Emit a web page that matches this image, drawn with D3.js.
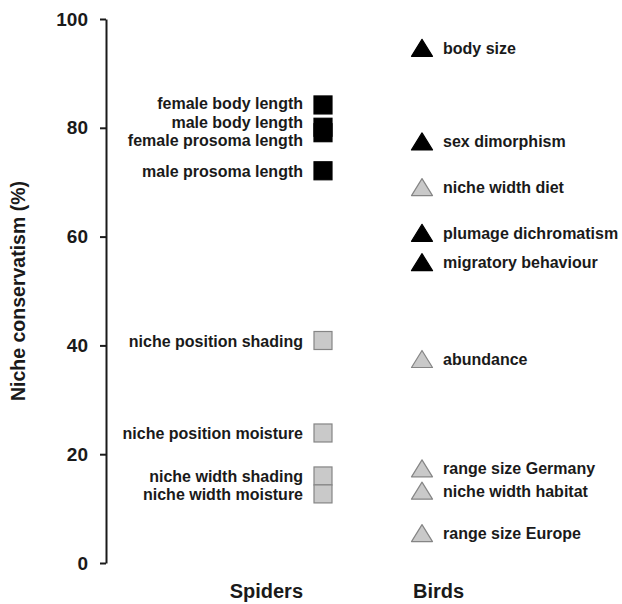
<!DOCTYPE html>
<html>
<head>
<meta charset="utf-8">
<script src="https://cdn.jsdelivr.net/npm/d3@7"></script>
<style>
body { margin: 0; background: #fff; }
text { font-family: "Liberation Sans", Arial, Helvetica, sans-serif; font-weight: bold; fill: #1a1a1a; }
</style>
</head>
<body>
<script>
var groups = ["Spiders", "Birds"];

var spiderTraits = ["female body length", "male body length", "female prosoma length", "male prosoma length",
	"niche position shading", "niche position moisture", "niche width shading", "niche width moisture"];
var spiderValues = [84.2, 80.1, 79.1, 72.1, 40.9, 23.9, 16.0, 12.7];
var spiderSignificant = [true, true, true, true, false, false, false, false];

var birdTraits = ["body size", "sex dimorphism", "niche width diet", "plumage dichromatism",
	"migratory behaviour", "abundance", "range size Germany", "niche width habitat", "range size Europe"];
var birdValues = [94.7, 77.5, 69.1, 60.7, 55.3, 37.5, 17.4, 13.3, 5.5];
var birdSignificant = [true, true, false, true, true, false, false, false, false];

var yTicks = [0, 20, 40, 60, 80, 100];

var width = 622, height = 604;

var svg = d3.select("body").append("svg")
	.attr("width", width)
	.attr("height", height);

var y = d3.scaleLinear()
	.domain([0, 100])
	.range([563, 19]);
var x = d3.scalePoint()
	.domain(groups)
	.range([323, 422]);

var axis = svg.append("g")
	.attr("transform", "translate(106,0)")
	.call(d3.axisLeft(y).tickValues(yTicks).tickSize(6).tickSizeOuter(0).tickPadding(12));
axis.select(".domain").attr("stroke", "#1a1a1a").attr("stroke-width", 2);
axis.selectAll(".tick line").attr("stroke", "#1a1a1a").attr("stroke-width", 2);
axis.selectAll(".tick text")
	.attr("font-size", 19)
	.attr("font-family", null)
	.attr("fill", null);

svg.append("text")
	.attr("transform", "translate(25," + y(50) + ") rotate(-90)")
	.attr("text-anchor", "middle")
	.attr("font-size", 19.5)
	.text("Niche conservatism (%)");

// push labels apart so they don't overlap
function spread(ys, gap) {
	var out = ys.slice();
	for (var k = 0; k < 20; k++) {
		for (var i = 1; i < out.length; i++) {
			var d = out[i] - out[i - 1];
			if (d < gap) {
				out[i - 1] -= (gap - d) / 2;
				out[i] += (gap - d) / 2;
			}
		}
	}
	return out;
}

var spiders = spiderTraits.map(function(t, i) {
	return {trait: t, value: spiderValues[i], sig: spiderSignificant[i]};
});
var birds = birdTraits.map(function(t, i) {
	return {trait: t, value: birdValues[i], sig: birdSignificant[i]};
});

var sq = 18;
var sx = x("Spiders");
svg.selectAll(".spider")
	.data(spiders)
	.enter().append("rect")
	.attr("class", "spider")
	.attr("x", sx - sq / 2)
	.attr("y", function(d) { return y(d.value) - sq / 2; })
	.attr("width", sq)
	.attr("height", sq)
	.attr("fill", function(d) { return d.sig ? "#000" : "#c9c9c9"; })
	.attr("stroke", function(d) { return d.sig ? "#000" : "#858585"; })
	.attr("stroke-width", 1.2);

var spiderLabelY = spread(spiders.map(function(d) { return y(d.value); }), 18.5);
svg.selectAll(".spider-label")
	.data(spiders)
	.enter().append("text")
	.attr("class", "spider-label")
	.attr("x", sx - 20)
	.attr("y", function(d, i) { return spiderLabelY[i]; })
	.attr("dy", "0.38em")
	.attr("text-anchor", "end")
	.attr("font-size", 16)
	.text(function(d) { return d.trait; });

var bx = x("Birds"), tw = 21, th = 17;
svg.selectAll(".bird")
	.data(birds)
	.enter().append("path")
	.attr("class", "bird")
	.attr("d", function(d) {
		var cy = y(d.value);
		return "M" + bx + "," + (cy - th / 2) + "L" + (bx + tw / 2) + "," + (cy + th / 2) +
			"L" + (bx - tw / 2) + "," + (cy + th / 2) + "Z";
	})
	.attr("fill", function(d) { return d.sig ? "#000" : "#c9c9c9"; })
	.attr("stroke", function(d) { return d.sig ? "#000" : "#858585"; })
	.attr("stroke-width", 1.2)
	.attr("stroke-linejoin", "round");

var birdLabelY = spread(birds.map(function(d) { return y(d.value); }), 18.5);
svg.selectAll(".bird-label")
	.data(birds)
	.enter().append("text")
	.attr("class", "bird-label")
	.attr("x", bx + 21)
	.attr("y", function(d, i) { return birdLabelY[i]; })
	.attr("dy", "0.38em")
	.attr("font-size", 16)
	.text(function(d) { return d.trait; });

svg.append("text")
	.attr("x", sx - 20)
	.attr("y", 598)
	.attr("text-anchor", "end")
	.attr("font-size", 20)
	.text("Spiders");
svg.append("text")
	.attr("x", bx - 9)
	.attr("y", 598)
	.attr("font-size", 20)
	.text("Birds");
</script>
</body>
</html>
